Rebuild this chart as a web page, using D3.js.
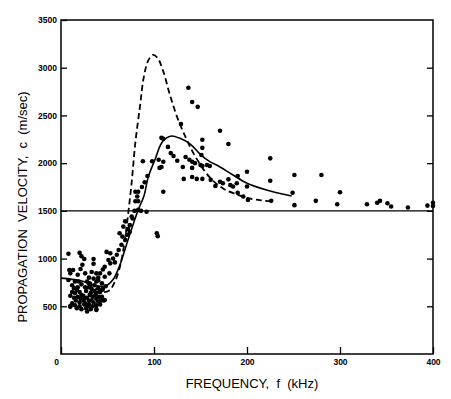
<!DOCTYPE html>
<html>
<head>
<meta charset="utf-8">
<script src="https://cdn.jsdelivr.net/npm/d3@7"></script>
<style>
  html, body { margin: 0; padding: 0; background: #fff; }
  svg { display: block; }
</style>
</head>
<body>
<script>
// measured points [frequency kHz, velocity m/s]
const lowCluster = [
  [8,1050],[20,1060],[22,1025],[25,995],[35,995],[35,945],[23,935],[21,890],[13,880],[10,845],
  [26,845],[18,830],[8,775],[15,760],[12,720],[18,700],[22,730],[28,760],[30,700],[33,680],
  [36,720],[40,690],[42,650],[38,640],[32,640],[27,660],[20,650],[15,640],[10,610],[14,590],
  [18,600],[24,610],[28,590],[34,600],[38,580],[44,600],[46,560],[40,550],[35,540],[30,560],
  [24,560],[20,540],[16,560],[12,530],[10,500],[15,510],[20,500],[25,520],[30,520],[34,500],
  [38,510],[42,520],[27,480],[32,470],[38,470],[28,445],[22,470],[17,480],[45,680],[48,710],
  [44,740],[40,770],[35,790],[38,760],[30,800],[47,810],[52,845],[42,845],[45,885],[47,915],
  [51,985],[53,950],[49,1070],[53,1055],[56,1000],[38,845],[44,670],[47,566],[38,461],[10,496],
  [9,880],[26,700],[31,620],[36,660],[22,620],[17,670],[25,580],[33,560],[41,600],[29,500],
  [14,690],[19,760],[31,740],[37,620],[43,560],[21,580],[26,530],[12,650],[40,800],[33,860]
];
const risingArm = [
  [60,1040],[62,1090],[65,1145],[69,1195],[71,1250],[63,1265],[74,1280],[67,1335],[69,1390],[74,1350],
  [77,1420],[76,1440],[79,1500],[83,1510],[80,1600],[83,1600],[82,1650],[83,1700],[80,1700],[87,1750],
  [90,1800],[93,1865],[86,1500],[92,1490],[103,1265],[104,1235],[58,960],[66,1230],[72,1310]
];
const peakRegion = [
  [88,2020],[98,2020],[105,2035],[110,2015],[108,1960],[106,1950],[110,1700],[108,2265],[110,2255],[115,2170],
  [118,2105],[121,2075],[125,2025],[129,2410],[132,1835],[131,1960],[134,2065],[137,2790],[138,2035],[141,2640],
  [141,2015],[141,1950],[141,1855],[144,2000],[146,1835],[147,2590],[150,1980],[152,2245],[152,2160],[152,1835],
  [152,1970],[151,2085],[157,1980],[160,1970],[161,1825],[166,1760],[171,2340],[171,1805],[174,1790],[180,2200],
  [180,1830],[182,1770],[185,1755],[189,1790],[190,1865],[190,1690],[196,1650],[200,1910],[200,1755],[201,1615]
];
const highFreq = [
  [225,2050],[225,1815],[226,1605],[249,1690],[251,1875],[251,1560],[274,1605],[280,1875],[297,1570],[300,1695],
  [329,1570],[340,1585],[343,1605],[351,1580],[355,1545],[373,1535],[394,1555],[400,1550],[400,1585]
];

// model curves
const solidCurve = [
  [0,795],[20,770],[35,725],[47,708],[56,780],[62,900],[67,1040],[72,1195],[78,1370],[83,1510],
  [89,1650],[94,1860],[101,2035],[108,2208],[114,2268],[119,2285],[128,2260],[139,2200],[150,2090],
  [160,2016],[171,1960],[185,1876],[200,1790],[221,1719],[248,1656]
];
const dashedCurve = [
  [28,735],[36,695],[45,650],[52,665],[58,760],[63,900],[68,1150],[72,1450],[76,1800],[80,2220],
  [85,2600],[89,2900],[94,3080],[99,3135],[104,3100],[110,2960],[117,2720],[125,2480],[135,2250],
  [145,2060],[160,1850],[175,1730],[190,1670],[200,1635],[215,1610],[227,1600]
];

const xTicks = [0, 100, 200, 300, 400];
const yTicks = [500, 1000, 1500, 2000, 2500, 3000, 3500];
const refVelocity = 1500;

const width = 451, height = 399;
const marginLeft = 61, marginTop = 20, marginRight = 18, marginBottom = 45;
const innerW = width - marginLeft - marginRight;
const innerH = height - marginTop - marginBottom;

const svg = d3.select("body").append("svg")
  .attr("width", width)
  .attr("height", height);

svg.append("rect").attr("width", width).attr("height", height).attr("fill", "white");

const g = svg.append("g").attr("transform", `translate(${marginLeft},${marginTop})`);

const x = d3.scaleLinear().domain([0, 400]).range([0, innerW]);
const y = d3.scaleLinear().domain([0, 3500]).range([innerH, 0]);

const tickFont = "bold 8.5px 'Liberation Sans', Arial, sans-serif";
const fmt = d3.format("d");

// bottom axis, ticks point inward
const xAxis = g.append("g")
  .attr("transform", `translate(0,${innerH})`)
  .call(d3.axisBottom(x).tickValues(xTicks).tickFormat(fmt).tickSize(-7).tickPadding(5).tickSizeOuter(0));
xAxis.selectAll("text").filter(d => d === 0).attr("dx", -5);

const yAxis = g.append("g")
  .call(d3.axisLeft(y).tickValues(yTicks).tickFormat(fmt).tickSize(-6).tickPadding(4).tickSizeOuter(0));

const rAxis = g.append("g")
  .attr("transform", `translate(${innerW},0)`)
  .call(d3.axisRight(y).tickValues(yTicks.slice(0, -1)).tickSize(-6).tickSizeOuter(0));
rAxis.selectAll("text").remove();

[xAxis, yAxis, rAxis].forEach(a => {
  a.select(".domain").remove();
  a.selectAll("line").attr("stroke", "#000").attr("stroke-width", 1.3);
  a.selectAll("text").attr("fill", "#000").style("font", tickFont);
});

// frame
g.append("rect")
  .attr("width", innerW).attr("height", innerH)
  .attr("fill", "none").attr("stroke", "#000").attr("stroke-width", 1.5);

// reference line
g.append("line")
  .attr("x1", x(0)).attr("x2", x(400))
  .attr("y1", y(refVelocity)).attr("y2", y(refVelocity))
  .attr("stroke", "#000").attr("stroke-width", 1.3);

const line = d3.line()
  .x(d => x(d[0]))
  .y(d => y(d[1]))
  .curve(d3.curveCatmullRom.alpha(0.5));

g.append("path").datum(dashedCurve)
  .attr("fill", "none").attr("stroke", "#000")
  .attr("stroke-width", 1.8).attr("stroke-dasharray", "6,3.5")
  .attr("d", line);

g.append("path").datum(solidCurve)
  .attr("fill", "none").attr("stroke", "#000")
  .attr("stroke-width", 1.6)
  .attr("d", line);

const allPoints = lowCluster.concat(risingArm, peakRegion, highFreq);
g.append("g").selectAll("circle")
  .data(allPoints)
  .join("circle")
  .attr("cx", d => x(d[0]))
  .attr("cy", d => y(d[1]))
  .attr("r", 2.3)
  .attr("fill", "#000");

// axis titles
g.append("text")
  .attr("x", innerW / 2 + 5)
  .attr("y", innerH + 34)
  .attr("text-anchor", "middle")
  .style("font", "13px 'Liberation Sans', Arial, sans-serif")
  .style("white-space", "pre")
  .attr("xml:space", "preserve")
  .text("FREQUENCY,  f  (kHz)");

g.append("text")
  .attr("transform", `translate(${-marginLeft + 27},${innerH / 2 + 20}) rotate(-90)`)
  .attr("text-anchor", "middle")
  .style("font", "13px 'Liberation Sans', Arial, sans-serif")
  .style("white-space", "pre")
  .attr("xml:space", "preserve")
  .text("PROPAGATION  VELOCITY,  c  (m/sec)");
</script>
</body>
</html>
